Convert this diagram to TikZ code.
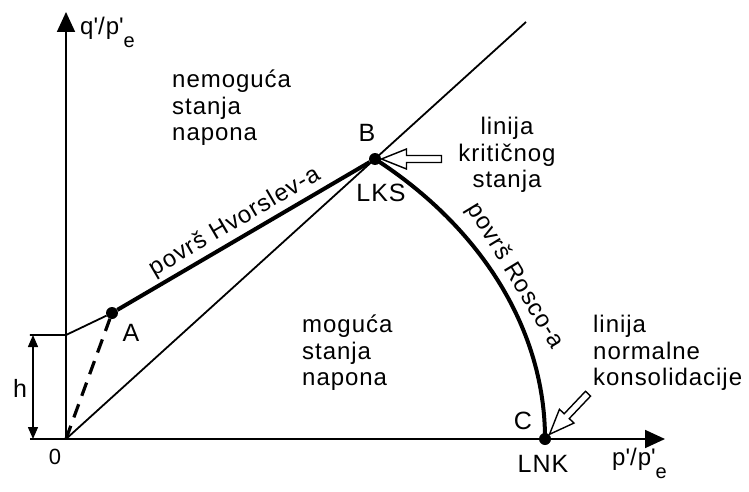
\documentclass[tikz,border=0pt]{standalone}
\usepackage{fontspec}
\setmainfont{Liberation Sans}[LetterSpace=4]
\usetikzlibrary{arrows.meta}

\newcommand{\txtfont}{\fontsize{24pt}{26.5pt}\selectfont}
\newcommand{\lblfont}{\fontsize{25pt}{27pt}\selectfont}
\newcommand{\qq}{\textquotesingle}
\newcommand{\subE}{\raisebox{-13pt}{\fontsize{20pt}{20pt}\selectfont e}}
% hollow pointer: tip point, angle towards the tail, length
\newcommand{\hollowarrow}[3]{%
  \draw[hollow, shift={#1}, rotate=#2] (0,0) -- (25,10) -- (25,3.5) -- (#3,3.5)
    -- (#3,-3.5) -- (25,-3.5) -- (25,-10) -- cycle;}

\tikzset{
  thinline/.style={line width=1.8pt},
  thickline/.style={line width=4pt},
  axis/.style={line width=1.8pt, -{Triangle[length=20pt,width=18pt]}},
  dot/.style={circle, fill=black, inner sep=0pt, minimum size=12pt},
  hollow/.style={draw=black, fill=white, line width=1.4pt, line join=miter},
  txt/.style={font=\txtfont, inner sep=0pt},
  lbl/.style={font=\lblfont, inner sep=0pt},
}

\begin{document}
\begin{tikzpicture}[x=1pt,y=1pt]
\useasboundingbox (-66,-52) rectangle (683,439);

\coordinate (O) at (0,0);
\coordinate (yEnd) at (0,427);
\coordinate (xStart) at (-36,0);
\coordinate (xEnd) at (599,0);
\coordinate (H) at (0,104);
\coordinate (hTick) at (-36,104);
\coordinate (hTop) at (-33,104);
\coordinate (hBot) at (-33,0);
\coordinate (kslEnd) at (460,417);
\coordinate (kslTip) at (315.5,280);
\coordinate (nclTip) at (483.5,4.7);

% axes
\draw[axis] (O) -- (yEnd);
\draw[axis] (xStart) -- (xEnd);
\node[txt, anchor=base west] (yLab) at (14,404) {q\qq/p\qq\subE};
\node[txt, anchor=base west] (xLab) at (546,-26) {p\qq/p\qq\subE};
\node[font=\fontsize{22pt}{22pt}\selectfont, inner sep=0pt] (lab0) at (-11,-18) {0};

% points
\node[dot] (A) at (46,126) {};
\node[dot] (B) at (309,280) {};
\node[dot] (C) at (479,0) {};

% h
\draw[thinline] (hTick) -- (H) -- (A);
\draw[line width=1.4pt, {Triangle[length=12pt,width=10pt]}-{Triangle[length=12pt,width=10pt]}] (hTop) -- (hBot);
\node[lbl] (labh) at (-46,51) {h};

% lines and surfaces
\draw[thinline] (O) -- (kslEnd);
\draw[line width=3.2pt, dash pattern=on 14pt off 9pt] (O) -- (A);
\draw[thickline] (A) -- (B) node[txt, midway, sloped, above=3pt] {površ Hvorslev-a};
\draw[thickline] (B.center) arc[start angle=49.83, end angle=0, x radius=479, y radius=366.5]
  node[txt, pos=0.5, sloped, above=4pt] {površ Rosco-a};

\hollowarrow{(kslTip)}{0}{60}
\hollowarrow{(nclTip)}{46.5}{56}

% labels
\node[lbl] (labA) at (65,106) {A};
\node[lbl] (labB) at (301,306) {B};
\node[lbl] (labLKS) at (315,246) {LKS};
\node[lbl] (labC) at (457,18) {C};
\node[lbl] (labLNK) at (477,-25) {LNK};

\node[txt, align=left, anchor=west] (imposs) at (106,331) {nemoguća\\stanja\\napona};
\node[txt, align=left, anchor=west] (poss) at (236,86) {moguća\\stanja\\napona};
\node[txt, align=center] (ksl) at (441,284) {linija\\kritičnog\\stanja};
\node[txt, align=left, anchor=west] (ncl) at (527,86) {linija\\normalne\\konsolidacije};
\end{tikzpicture}
\end{document}
